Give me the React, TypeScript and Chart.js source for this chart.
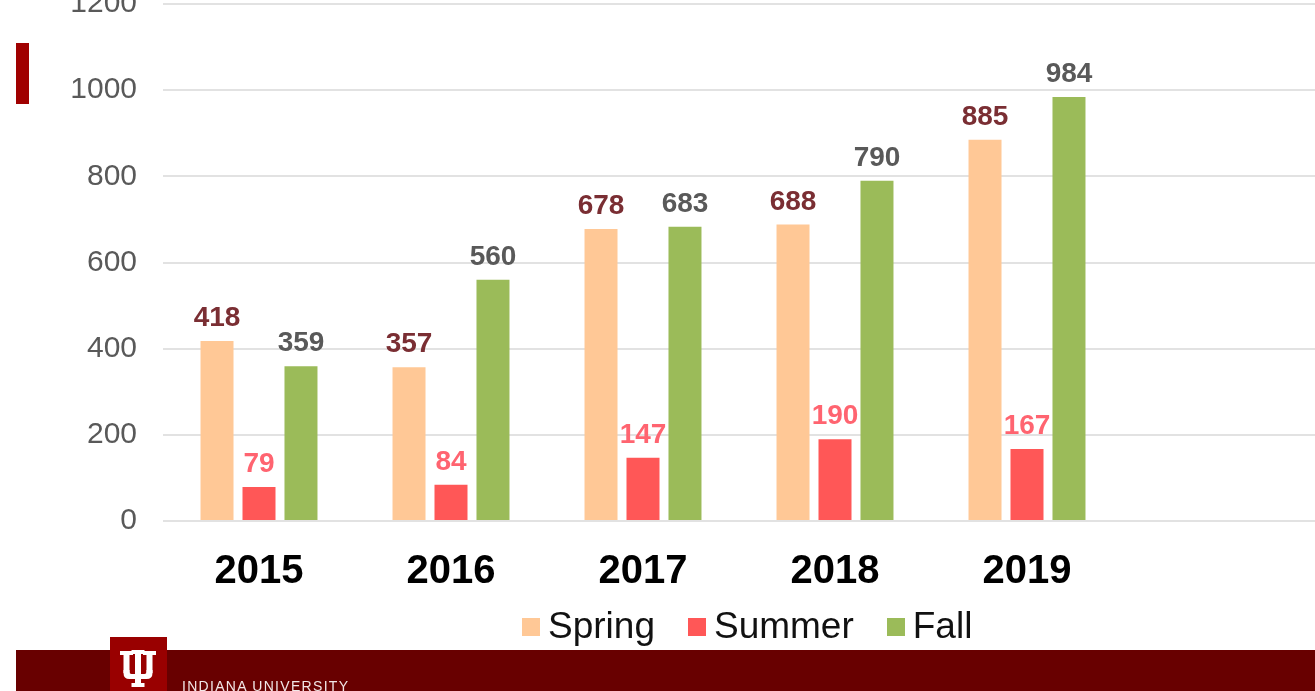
import React, { useEffect, useRef } from "react";
import { Chart, registerables } from "chart.js";

Chart.register(...registerables);

const years = ["2015", "2016", "2017", "2018", "2019", ""];
const spring = [418, 357, 678, 688, 885, null];
const summer = [79, 84, 147, 190, 167, null];
const fall = [359, 560, 683, 790, 984, null];
const seriesNames = ["Spring", "Summer", "Fall"];
const barColors = ["#FFC896", "#FF5757", "#9BBB59"];
const labelColors = ["#7A2E33", "#FF6470", "#595959"];
const yTicks = [0, 200, 400, 600, 800, 1000, 1200];

const FONT = '"Liberation Sans", Arial, sans-serif';

const valueLabels = {
  id: "valueLabels",
  afterDatasetsDraw(chart: any) {
    const ctx = chart.ctx;
    chart.data.datasets.forEach((ds: any, i: number) => {
      const meta = chart.getDatasetMeta(i);
      meta.data.forEach((bar: any, j: number) => {
        const v = ds.data[j];
        if (v == null) return;
        ctx.save();
        ctx.font = `bold 28px ${FONT}`;
        ctx.fillStyle = labelColors[i];
        ctx.textAlign = "center";
        ctx.textBaseline = "alphabetic";
        ctx.fillText(String(v), bar.x, bar.y - 15);
        ctx.restore();
      });
    });
  },
};

export default function App() {
  const ref = useRef<HTMLCanvasElement | null>(null);

  useEffect(() => {
    document.body.style.margin = "0";
    document.body.style.background = "#ffffff";
    const chart = new Chart(ref.current as HTMLCanvasElement, {
      type: "bar",
      data: {
        labels: years,
        datasets: [spring, summer, fall].map((d, i) => ({
          label: seriesNames[i],
          data: d,
          backgroundColor: barColors[i],
          borderWidth: 0,
          categoryPercentage: 0.656,
          barPercentage: 0.786,
        })),
      },
      options: {
        responsive: false,
        animation: false,
        layout: { padding: { top: 43, bottom: 90, left: 0, right: 0 } },
        plugins: {
          legend: { display: false },
          tooltip: { enabled: false },
        },
        scales: {
          x: {
            grid: { display: false, drawTicks: false },
            border: { display: false },
            ticks: {
              color: "#000000",
              font: { family: FONT, size: 40, weight: "bold" },
              padding: 27,
              maxRotation: 0,
              autoSkip: false,
            },
            afterFit: (s: any) => {
              s.height = 80;
            },
          },
          y: {
            min: 0,
            max: 1200,
            afterBuildTicks: (s: any) => {
              s.ticks = yTicks.map((v) => ({ value: v }));
            },
            grid: { color: "#E2E2E2", lineWidth: 2, drawTicks: false },
            border: { display: false },
            ticks: {
              color: "#595959",
              font: { family: FONT, size: 30 },
              padding: 26,
              callback: (v: any) => String(v),
            },
            afterFit: (s: any) => {
              s.width = 163;
            },
          },
        },
      },
      plugins: [valueLabels],
    });
    return () => chart.destroy();
  }, []);

  return (
    <div style={{ position: "fixed", left: 0, top: 0, width: 1315, height: 691, overflow: "hidden", background: "#fff" }}>
      <canvas ref={ref} width={1315} height={731} style={{ position: "absolute", left: 0, top: -40 }} />
      <div style={{ position: "absolute", left: 16, top: 43, width: 13, height: 61, background: "#A00000" }} />
      <div
        style={{
          position: "absolute",
          left: 522,
          top: 607,
          display: "flex",
          alignItems: "center",
          fontFamily: FONT,
          fontSize: 37,
          lineHeight: "37px",
          color: "#111",
          whiteSpace: "nowrap",
        }}
      >
        {seriesNames.map((n, i) => (
          <div key={n} style={{ display: "flex", alignItems: "center", marginRight: 33 }}>
            <span style={{ display: "inline-block", width: 18, height: 18, background: barColors[i], marginRight: 8, marginTop: 3 }} />
            <span>{n}</span>
          </div>
        ))}
      </div>
      <div style={{ position: "absolute", left: 16, top: 650, width: 1299, height: 41, background: "#680000" }} />
      <div style={{ position: "absolute", left: 110, top: 637, width: 57, height: 54, background: "#990000" }}>
        <svg width="38" height="38" viewBox="0 0 38 38" style={{ position: "absolute", left: 9, top: 13 }}>
          <g fill="#ffffff">
            <rect x="1" y="1" width="13" height="4" />
            <rect x="4.5" y="1" width="6" height="22" />
            <rect x="24" y="1" width="13" height="4" />
            <rect x="27.5" y="1" width="6" height="22" />
            <rect x="12.5" y="0" width="13" height="4" />
            <rect x="16" y="0" width="6" height="35" />
            <rect x="12.5" y="33" width="13" height="4" />
            <path d="M4.5 20 V23 Q4.5 29 10.5 29 H27.5 Q33.5 29 33.5 23 V20 H27.5 V22 Q27.5 24 25.5 24 H12.5 Q10.5 24 10.5 22 V20 Z" />
          </g>
        </svg>
      </div>
      <div
        style={{
          position: "absolute",
          left: 182,
          top: 678,
          fontFamily: FONT,
          fontSize: 14,
          letterSpacing: 1.3,
          color: "#f2e6e6",
          whiteSpace: "nowrap",
        }}
      >
        INDIANA UNIVERSITY
      </div>
    </div>
  );
}
